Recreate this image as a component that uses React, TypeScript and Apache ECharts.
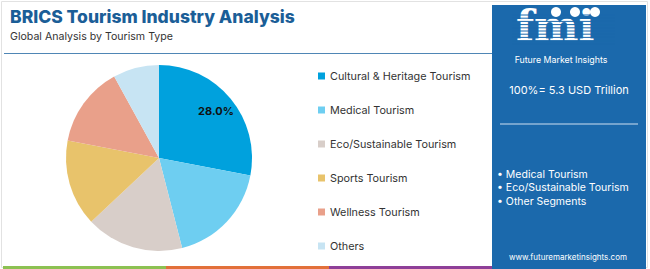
import React, { useEffect, useRef } from "react";
import * as echarts from "echarts";

const titleText = "BRICS Tourism Industry Analysis";
const subtitleText = "Global Analysis by Tourism Type";
const categories = [
  "Cultural & Heritage Tourism",
  "Medical Tourism",
  "Eco/Sustainable Tourism",
  "Sports Tourism",
  "Wellness Tourism",
  "Others",
];
const shares = [28.0, 18.0, 17.0, 15.0, 14.0, 8.0];
const sliceColors = ["#00a1dd", "#6ecef1", "#d8cec9", "#e8c36b", "#e9a08a", "#c7e4f3"];
const labelledSlices = ["Cultural & Heritage Tourism"];
const totalLabel = "100%= 5.3 USD Trillion";
const panelBullets = ["Medical Tourism", "Eco/Sustainable Tourism", "Other Segments"];
const brandName = "Future Market Insights";
const website = "www.futuremarketinsights.com";
const stripeColors = ["#8cc152", "#e2703a", "#8e3f98"];

const PANEL = "#1b69ac";
const FONT = "Inter, 'Open Sans', sans-serif";

export default function App() {
  const ref = useRef<HTMLDivElement>(null);
  useEffect(() => {
    if (!ref.current) return;
    const chart = echarts.init(ref.current, undefined, { renderer: "svg" });
    const data = categories.map((name, i) => ({
      name,
      value: shares[i],
      itemStyle: { color: sliceColors[i] },
    }));
    const logoStripes: any[] = [];
    for (let y = 15; y < 45; y += 3.2) {
      logoStripes.push({
        type: "line",
        shape: { x1: 512, y1: y, x2: 615, y2: y },
        style: { stroke: PANEL, lineWidth: 1 },
      });
    }
    const option: any = {
      animation: false,
      title: {
        text: titleText,
        subtext: subtitleText,
        left: 5,
        top: 2,
        itemGap: 6,
        textStyle: { fontFamily: FONT, fontSize: 17.5, fontWeight: 800, color: "#1b5e97" },
        subtextStyle: { fontFamily: FONT, fontSize: 10.6, color: "#333" },
      },
      legend: {
        orient: "vertical",
        left: 313,
        top: 64,
        icon: "rect",
        itemWidth: 7,
        itemHeight: 7,
        itemGap: 20,
        data: categories,
        selectedMode: false,
        textStyle: { fontFamily: FONT, fontSize: 10.8, color: "#333", lineHeight: 14 },
      },
      graphic: [
        {
          type: "rect",
          shape: { x: 1.5, y: 1.5, width: 646, height: 266 },
          style: { fill: "none", stroke: "#e2e2e2", lineWidth: 1 },
        },
        {
          type: "line",
          shape: { x1: 4, y1: 53.5, x2: 492, y2: 53.5 },
          style: { stroke: "#4f86b5", lineWidth: 1.2 },
        },
        ...stripeColors.map((c, i) => ({
          type: "rect",
          shape: { x: 3 + i * 163, y: 266, width: 163, height: 3 },
          style: { fill: c },
        })),
        {
          type: "rect",
          shape: { x: 492, y: 5, width: 154, height: 264 },
          style: { fill: PANEL },
        },
        {
          type: "text",
          x: 516,
          y: 5,
          style: {
            text: "fmi",
            fontFamily: "'DejaVu Serif', serif",
            fontWeight: "bold",
            fontSize: 42,
            fill: "#ffffff",
          },
        },
        ...logoStripes,
        { type: "circle", shape: { cx: 556, cy: 12, r: 5 }, style: { fill: "#ffffff" } },
        { type: "circle", shape: { cx: 575, cy: 12, r: 5 }, style: { fill: "#ffffff" } },
        { type: "circle", shape: { cx: 595, cy: 12, r: 5 }, style: { fill: "#ffffff" } },
        {
          type: "text",
          x: 561,
          y: 59,
          style: {
            text: brandName,
            fontFamily: FONT,
            fontSize: 8.8,
            fill: "#ffffff",
            align: "center",
            verticalAlign: "middle",
          },
        },
        {
          type: "text",
          x: 569,
          y: 90,
          style: {
            text: totalLabel,
            fontFamily: FONT,
            fontSize: 11,
            fill: "#ffffff",
            align: "center",
            verticalAlign: "middle",
          },
        },
        {
          type: "line",
          shape: { x1: 500, y1: 124, x2: 638, y2: 124 },
          style: { stroke: "#cfe0f0", lineWidth: 1 },
        },
        ...panelBullets.map((b, i) => ({
          type: "text",
          x: 497,
          y: 174 + i * 13.5,
          style: {
            text: "• " + b,
            fontFamily: FONT,
            fontSize: 10.5,
            fill: "#ffffff",
            verticalAlign: "middle",
          },
        })),
        {
          type: "text",
          x: 568,
          y: 257,
          style: {
            text: website,
            fontFamily: FONT,
            fontSize: 8,
            fill: "#ffffff",
            align: "center",
            verticalAlign: "middle",
          },
        },
      ],
      series: [
        {
          type: "pie",
          center: [159, 158],
          radius: [0, 93],
          startAngle: 90,
          clockwise: true,
          silent: true,
          label: { show: false },
          labelLine: { show: false },
          data,
        },
        {
          type: "pie",
          center: [159, 158],
          radius: [49, 93],
          startAngle: 90,
          clockwise: true,
          silent: true,
          itemStyle: { color: "rgba(0,0,0,0)" },
          label: {
            show: true,
            position: "inside",
            fontFamily: FONT,
            fontSize: 11,
            fontWeight: "bold",
            color: "#111",
            formatter: (p: any) =>
              labelledSlices.includes(p.name) ? p.value.toFixed(1) + "%" : "",
          },
          labelLine: { show: false },
          data: categories.map((name, i) => ({
            name,
            value: shares[i],
            itemStyle: { color: "rgba(0,0,0,0)" },
          })),
        },
      ],
    };
    chart.setOption(option);
    return () => chart.dispose();
  }, []);
  return (
    <div
      ref={ref}
      style={{ position: "fixed", left: 0, top: 0, width: 650, height: 269, background: "#fff" }}
    />
  );
}
